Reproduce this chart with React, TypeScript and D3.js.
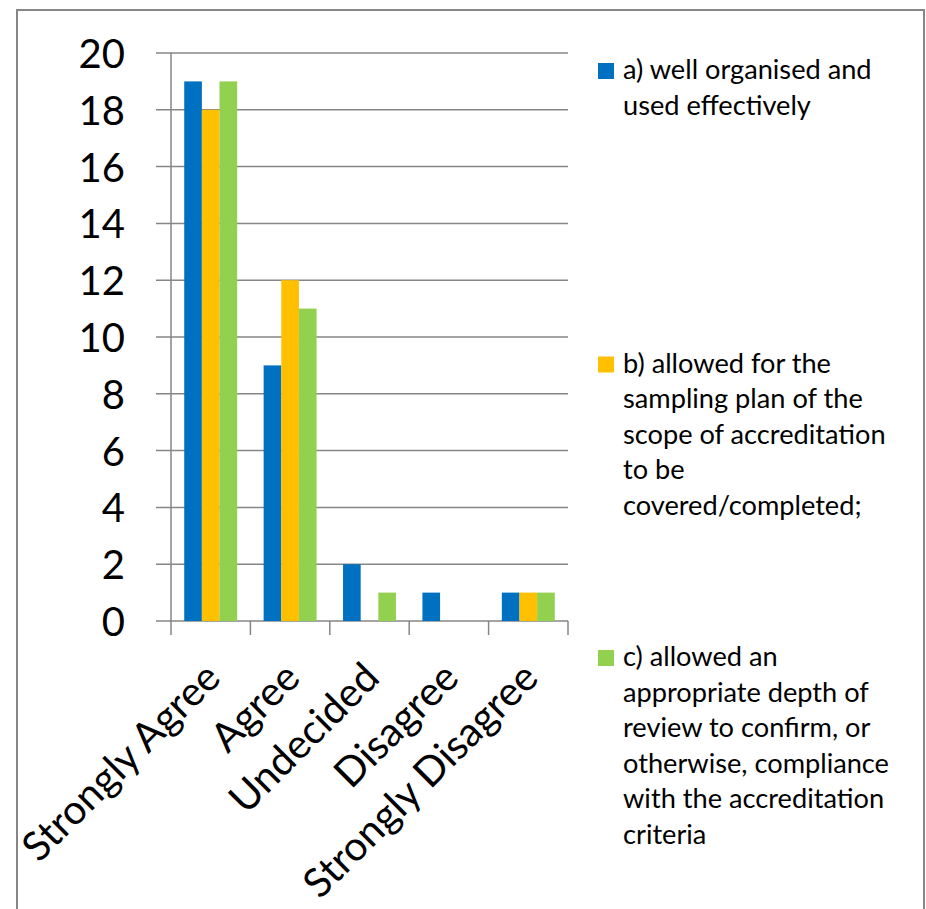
import * as d3 from "d3";

// Answer categories along the x axis
const categories = [
  "Strongly Agree",
  "Agree",
  "Undecided",
  "Disagree",
  "Strongly Disagree",
];

// Series names (legend) and their counts per category
const seriesNames = [
  "a) well organised and used effectively",
  "b) allowed for the sampling plan of the scope of accreditation to be covered/completed;",
  "c) allowed an appropriate depth of review to confirm, or otherwise, compliance with the accreditation criteria",
];
const seriesA = [19, 9, 2, 1, 1];
const seriesB = [18, 12, 0, 0, 1];
const seriesC = [19, 11, 1, 0, 1];

const yTicks = [0, 2, 4, 6, 8, 10, 12, 14, 16, 18, 20];

// Legend text as wrapped in the original
const legendLines = [
  ["a) well organised and", "used effectively"],
  [
    "b) allowed for the",
    "sampling plan of the",
    "scope of accreditation",
    "to be",
    "covered/completed;",
  ],
  [
    "c) allowed an",
    "appropriate depth of",
    "review to confirm, or",
    "otherwise, compliance",
    "with the accreditation",
    "criteria",
  ],
];

const colors = ["#0070C0", "#FFC000", "#92D050"];
const font = "Lato, 'Open Sans', sans-serif";

export default function App() {
  const width = 926;
  const height = 909;
  const plot = { left: 171, right: 568, top: 53, bottom: 621 };

  const series = [seriesA, seriesB, seriesC];

  const x = d3
    .scaleBand<string>()
    .domain(categories)
    .range([plot.left, plot.right])
    .padding(0);

  // three bars per category, gap width 150%
  const xInner = d3
    .scaleBand<number>()
    .domain(d3.range(series.length))
    .range([0, x.bandwidth()])
    .paddingInner(0)
    .paddingOuter(0.75);

  const y = d3.scaleLinear().domain([0, 20]).range([plot.bottom, plot.top]);

  const axisColor = "#868686";
  const boundaries = d3.range(categories.length + 1).map(
    (i) => plot.left + i * x.step()
  );

  return (
    <svg
      width={width}
      height={height}
      viewBox={`0 0 ${width} ${height}`}
      style={{ position: "absolute", left: 0, top: 0, background: "#fff" }}
      fontFamily={font}
    >
      {/* chart frame (bottom edge falls outside the picture) */}
      <path
        d={`M17,${height} V10 H924 V${height}`}
        fill="none"
        stroke={axisColor}
        strokeWidth={2}
      />

      {/* gridlines with outside tick marks */}
      {yTicks.map((t) => (
        <line
          key={`g-${t}`}
          x1={plot.left - 15}
          x2={plot.right}
          y1={y(t)}
          y2={y(t)}
          stroke={axisColor}
          strokeWidth={1.5}
        />
      ))}

      {/* y axis line */}
      <line
        x1={plot.left}
        x2={plot.left}
        y1={plot.top}
        y2={plot.bottom}
        stroke={axisColor}
        strokeWidth={1.5}
      />

      {/* x axis category ticks */}
      {boundaries.map((bx, i) => (
        <line
          key={`xt-${i}`}
          x1={bx}
          x2={bx}
          y1={plot.bottom}
          y2={plot.bottom + 14}
          stroke={axisColor}
          strokeWidth={1.5}
        />
      ))}

      {/* bars */}
      {series.map((vals, si) =>
        vals.map((v, ci) =>
          v > 0 ? (
            <rect
              key={`b-${si}-${ci}`}
              x={(x(categories[ci]) ?? 0) + (xInner(si) ?? 0)}
              y={y(v)}
              width={xInner.bandwidth()}
              height={y(0) - y(v)}
              fill={colors[si]}
            />
          ) : null
        )
      )}

      {/* y tick labels */}
      {yTicks.map((t) => (
        <text
          key={`yl-${t}`}
          x={125}
          y={y(t)}
          textAnchor="end"
          dominantBaseline="central"
          fontSize={40}
          fill="#000"
        >
          {t}
        </text>
      ))}

      {/* rotated category labels */}
      {categories.map((c) => {
        const cx = (x(c) ?? 0) + x.bandwidth() / 2;
        return (
          <text
            key={`xl-${c}`}
            transform={`translate(${cx + 12},${680}) rotate(-45)`}
            textAnchor="end"
            fontSize={40.5}
            fill="#000"
          >
            {c}
          </text>
        );
      })}

      {/* legend */}
      {seriesNames.map((name, i) => {
        const top = 63 + i * 293.5;
        return (
          <g key={`lg-${i}`} aria-label={name}>
            <rect x={598} y={top} width={16} height={16} fill={colors[i]} />
            {legendLines[i].map((line, li) => (
              <text
                key={li}
                x={623}
                y={top + 16 + li * 35.5}
                fontSize={27.2}
                fill="#000"
              >
                {line}
              </text>
            ))}
          </g>
        );
      })}
    </svg>
  );
}
